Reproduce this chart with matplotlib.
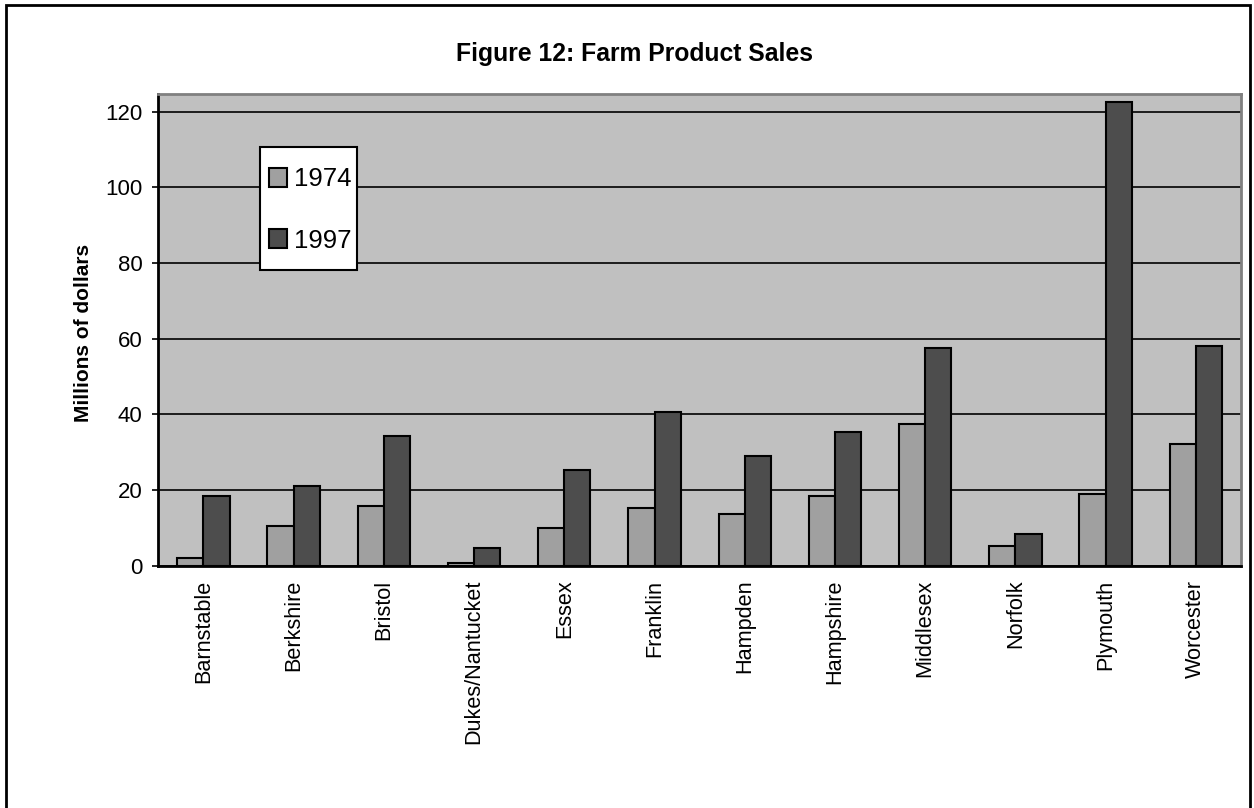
import numpy as np
import matplotlib
matplotlib.use("Agg")
import matplotlib.pyplot as plt
from matplotlib.patches import Rectangle

plt.rcParams['font.family'] = ['Liberation Sans', 'DejaVu Sans']

# County farm product sales, millions of dollars
counties = ["Barnstable", "Berkshire", "Bristol", "Dukes/Nantucket", "Essex",
            "Franklin", "Hampden", "Hampshire", "Middlesex", "Norfolk",
            "Plymouth", "Worcester"]
sales_1974 = [2.1, 10.6, 15.9, 0.6, 10.0, 15.3, 13.7, 18.5, 37.5, 5.3, 19.0, 32.2]
sales_1997 = [18.5, 21.1, 34.4, 4.8, 25.4, 40.7, 29.1, 35.4, 57.6, 8.5, 122.7, 58.2]
series_labels = ["1974", "1997"]
y_ticks = [0, 20, 40, 60, 80, 100, 120]

W, H = 1254, 808
fig = plt.figure(figsize=(W / 100, H / 100), dpi=100)
fig.patch.set_facecolor("white")

ax = fig.add_axes([158.3 / W, 1 - 565.7 / H, (1241 - 158.3) / W, (565.7 - 94) / H])
ax.set_facecolor("#c0c0c0")

x = np.arange(len(counties))
bw = 0.29
b1 = ax.bar(x - bw / 2, sales_1974, bw, color="#a0a0a0", edgecolor="black",
            linewidth=1.5, zorder=3, label=series_labels[0])
b2 = ax.bar(x + bw / 2, sales_1997, bw, color="#4d4d4d", edgecolor="black",
            linewidth=1.5, zorder=3, label=series_labels[1])

ax.set_xlim(-0.5, len(counties) - 0.5)
ax.set_ylim(0, 124.7)
ax.set_yticks(y_ticks)
ax.yaxis.grid(True, color="black", linewidth=1.2, zorder=1)
ax.set_axisbelow(True)

ax.set_xticks(x)
ax.set_xticklabels(counties, rotation=90, fontsize=15.6, va="top", ha="center")
ax.tick_params(axis="x", length=0, pad=10)
ax.tick_params(axis="y", labelsize=16, length=4, width=1.2, pad=7.5)

for side in ("left", "bottom"):
    ax.spines[side].set_color("black")
    ax.spines[side].set_linewidth(2)
for side in ("top", "right"):
    ax.spines[side].set_color("#808080")
    ax.spines[side].set_linewidth(2)

fig.text(634 / W, 1 - 54 / H, "Figure 12: Farm Product Sales", ha="center",
         va="center", fontsize=17.8, fontweight="bold")
fig.text(83.5 / W, 1 - 333 / H, "Millions of dollars", rotation=90, ha="center",
         va="center", fontsize=15, fontweight="bold")

# legend box with white fill and black frame
fig.add_artist(Rectangle((260 / W, 1 - 270 / H), 97 / W, 123 / H,
                         transform=fig.transFigure, facecolor="white",
                         edgecolor="black", linewidth=1.5, zorder=3))
fig.legend(handles=[b1, b2], labels=series_labels, loc="center",
           bbox_to_anchor=(310 / W, 1 - 210 / H), frameon=False, fontsize=18.5,
           handlelength=0.72, handleheight=0.72, handletextpad=0.27,
           labelspacing=1.45, borderpad=0)

# outer chart border, running off the bottom edge
fig.add_artist(Rectangle((6 / W, -10 / H), (1250 - 6) / W, (H - 4.5 + 10) / H,
                         transform=fig.transFigure, fill=False,
                         edgecolor="black", linewidth=2))

fig.savefig("out.png", dpi=100)
